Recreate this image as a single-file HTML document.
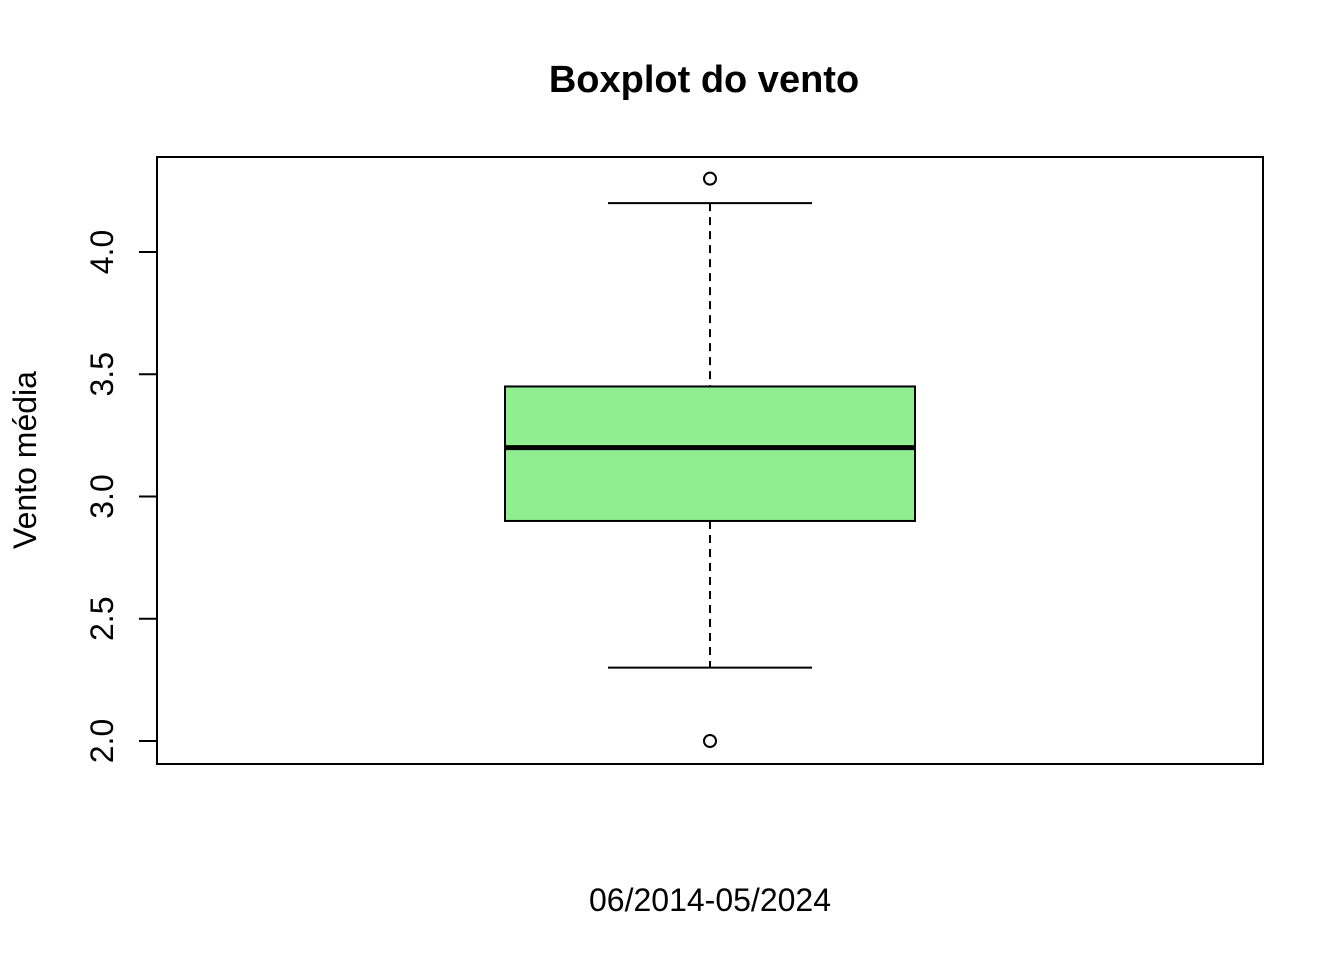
<!DOCTYPE html>
<html><head><meta charset="utf-8"><style>
html,body{margin:0;padding:0;background:#fff;}
svg{display:block;font-family:"Liberation Sans",Arial,sans-serif;}
</style></head><body>
<svg id="chart" width="1344" height="960">
<text x="704" y="92" text-anchor="middle" font-size="38" font-weight="bold">Boxplot do vento</text>
<rect x="157" y="157" width="1106" height="607" fill="none" stroke="#000" stroke-width="2"/>
<text x="710" y="911" text-anchor="middle" font-size="32">06/2014-05/2024</text>
<text transform="translate(36,460) rotate(-90)" text-anchor="middle" font-size="32">Vento média</text>
<g id="yaxis"></g>
<g id="marks"></g>
</svg>
<script>
const yTicks=[2.0,2.5,3.0,3.5,4.0];
const yTickLabels=["2.0","2.5","3.0","3.5","4.0"];
const stats=[2.3,2.9,3.2,3.45,4.2]; // whiskerLow, q1, median, q3, whiskerHigh
const outliers=[4.3,2.0];
const NS="http://www.w3.org/2000/svg";
function y(v){return 741-(v-2)*244.5;}
const cx=710, bw=205, cap=102;
function mk(tag,attrs,parent){const e=document.createElementNS(NS,tag);for(const k in attrs)e.setAttribute(k,attrs[k]);parent.appendChild(e);return e;}
const ya=document.getElementById('yaxis');
mk('line',{x1:157,x2:157,y1:y(yTicks[0]),y2:y(yTicks[yTicks.length-1]),stroke:'#000','stroke-width':2},ya);
yTicks.forEach((t,i)=>{
  const l=mk('line',{x1:139,x2:157,y1:y(t),y2:y(t),stroke:'#000','stroke-width':2},ya);
  
  
  const tx=mk('text',{transform:`translate(113,${y(t)}) rotate(-90)`,'text-anchor':'middle','font-size':32},ya);
  tx.textContent=yTickLabels[i];
  
  
});
const g=document.getElementById('marks');
const [wl,q1,med,q3,wh]=stats;
let e;
e=mk('line',{x1:cx,x2:cx,y1:y(wh),y2:y(q3),stroke:'#000','stroke-width':2,'stroke-dasharray':'8,6'},g);


e=mk('line',{x1:cx,x2:cx,y1:y(q1),y2:y(wl),stroke:'#000','stroke-width':2,'stroke-dasharray':'8,6'},g);


e=mk('line',{x1:cx-cap,x2:cx+cap,y1:y(wh),y2:y(wh),stroke:'#000','stroke-width':2},g);


e=mk('line',{x1:cx-cap,x2:cx+cap,y1:y(wl),y2:y(wl),stroke:'#000','stroke-width':2},g);


e=mk('rect',{x:cx-bw,y:y(q3),width:2*bw,height:y(q1)-y(q3),fill:'#90EE90',stroke:'#000','stroke-width':2},g);


e=mk('line',{x1:cx-bw,x2:cx+bw,y1:y(med),y2:y(med),stroke:'#000','stroke-width':5},g);


outliers.forEach(o=>{
  const c=mk('circle',{cx:cx,cy:y(o),r:6,fill:'none',stroke:'#000','stroke-width':2},g);
  
  
});
</script>
</body></html>
